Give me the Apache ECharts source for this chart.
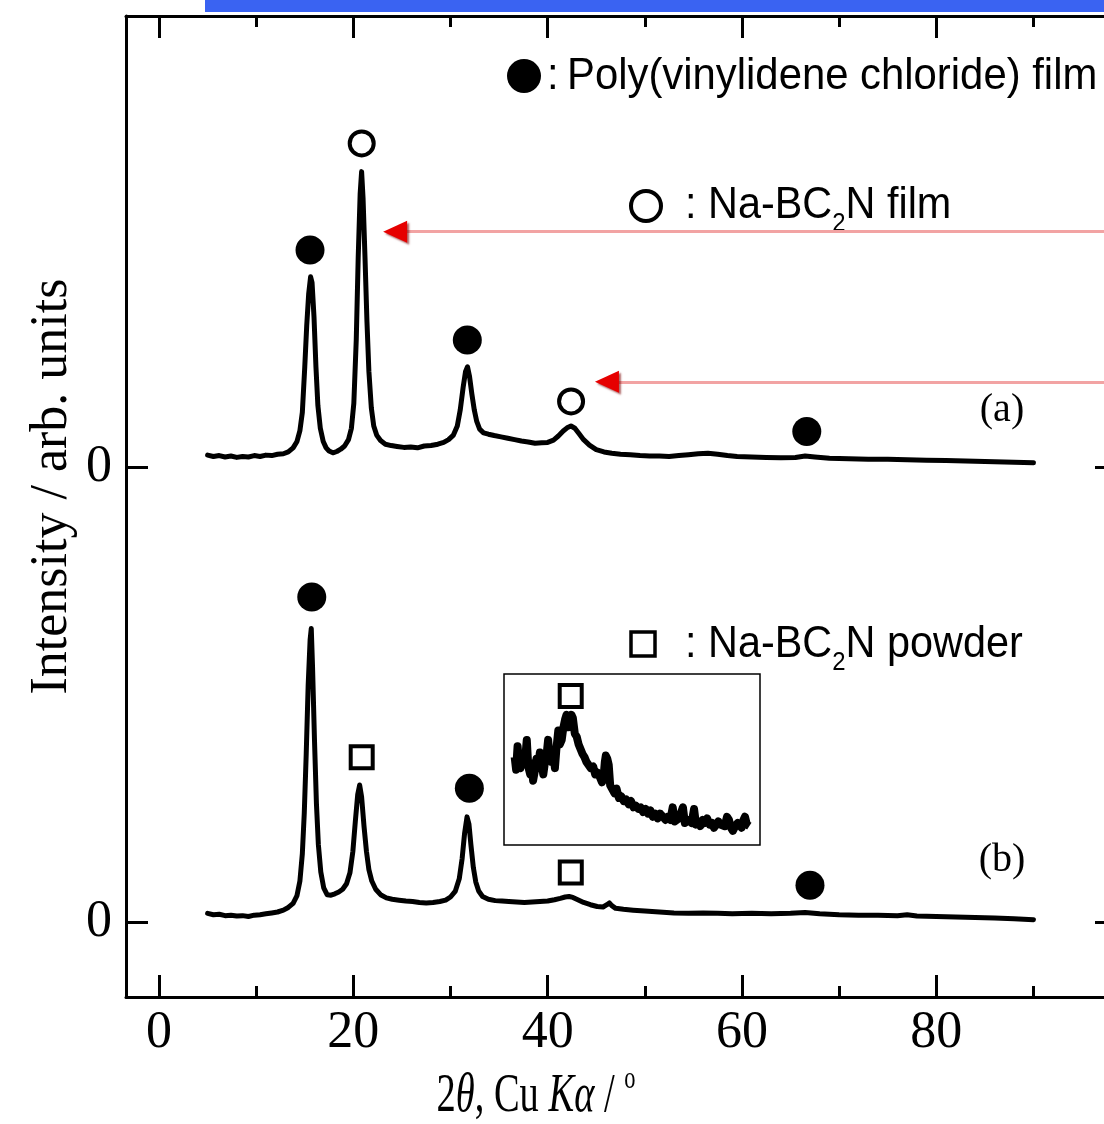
<!DOCTYPE html>
<html>
<head>
<meta charset="utf-8">
<script src="https://cdn.jsdelivr.net/npm/echarts@6/dist/echarts.min.js"></script>
<style>
html,body{margin:0;padding:0;background:#fff;}
#xrdChart{width:1104px;height:1124px;}
</style>
</head>
<body>
<div id="xrdChart"></div>
<script>
// (a) Na-BC2N film on PVDC
const thetaA = [5.0,5.6,6.2,6.8,7.4,8.0,8.6,9.2,9.8,10.4,11.0,11.6,12.2,12.8,13.3,13.8,14.2,14.5,14.75,15.0,15.2,15.4,15.6,15.75,15.95,16.15,16.35,16.6,16.9,17.2,17.5,17.9,18.3,18.7,19.1,19.5,19.8,20.05,20.3,20.5,20.7,20.85,21.0,21.2,21.4,21.6,21.85,22.1,22.4,22.8,23.3,23.9,24.5,25.2,25.9,26.6,27.3,28.0,28.7,29.3,29.8,30.3,30.7,31.0,31.3,31.55,31.75,31.95,32.2,32.45,32.7,33.0,33.4,33.9,34.5,35.2,35.9,36.6,37.3,38.0,38.7,39.4,40.0,40.6,41.1,41.6,42.0,42.4,42.8,43.2,43.7,44.3,45.0,45.8,46.6,47.5,48.5,49.5,50.5,51.5,52.5,53.5,54.5,55.5,56.5,57.5,58.5,59.5,61.0,62.5,64.0,65.5,66.5,67.5,69.0,71.0,73.0,75.0,77.0,79.0,81.0,83.0,85.0,87.0,89.0,90.0];
const intA = [2.6,2.3,2.5,2.2,2.4,2.1,2.3,2.2,2.5,2.3,2.6,2.5,2.8,2.9,3.3,4.2,5.6,8.0,12.0,22.0,31.0,38.0,41.8,40.5,33.0,22.0,13.5,8.5,5.6,4.2,3.5,3.1,3.4,3.9,4.6,6.0,8.5,14.0,28.0,46.0,60.0,64.9,59.0,46.0,32.0,21.0,13.0,9.0,7.0,5.8,5.0,4.7,4.5,4.3,4.4,4.2,4.6,4.7,5.0,5.4,6.0,7.0,9.0,12.5,17.5,21.0,22.0,20.0,16.0,12.5,10.0,8.3,7.5,7.2,6.9,6.6,6.3,6.0,5.7,5.5,5.2,5.3,5.4,5.9,6.8,7.9,8.6,9.0,8.5,7.4,6.0,4.8,3.8,3.3,3.0,2.8,2.7,2.5,2.4,2.4,2.3,2.5,2.7,2.9,3.0,2.8,2.5,2.3,2.2,2.1,2.0,2.1,2.4,2.2,1.9,1.8,1.7,1.7,1.6,1.5,1.4,1.3,1.2,1.1,1.0,0.9];

// (b) Na-BC2N powder on PVDC, lower trace
const thetaB = [5.0,5.6,6.2,6.8,7.4,8.0,8.6,9.2,9.8,10.4,11.0,11.6,12.2,12.8,13.3,13.8,14.2,14.5,14.75,14.95,15.15,15.35,15.55,15.67,15.8,16.0,16.2,16.4,16.65,16.95,17.3,17.7,18.1,18.5,18.9,19.3,19.65,19.95,20.2,20.45,20.65,20.85,21.1,21.35,21.6,21.9,22.3,22.8,23.4,24.0,24.7,25.4,26.1,26.8,27.5,28.2,28.9,29.5,30.0,30.5,30.9,31.2,31.45,31.7,31.9,32.1,32.35,32.6,32.9,33.3,33.9,34.6,35.3,36.0,36.8,37.6,38.4,39.2,40.0,40.7,41.3,41.8,42.2,42.6,43.1,43.7,44.4,45.1,45.7,46.1,46.35,46.6,47.0,47.8,48.8,50.0,51.5,53.0,54.5,56.0,57.5,59.0,61.0,63.0,65.0,66.5,68.0,70.0,72.0,74.0,76.0,77.0,78.0,80.0,82.0,84.0,86.0,88.0,90.0];
const intB = [1.9,1.6,1.7,1.4,1.5,1.3,1.4,1.2,1.5,1.6,1.8,2.0,2.2,2.6,3.2,4.1,5.8,9.0,15.0,24.0,37.0,52.0,62.0,64.5,56.0,40.0,26.0,17.0,11.0,7.5,6.0,5.9,6.2,6.6,7.2,8.4,10.8,15.5,22.0,28.0,30.1,27.5,21.0,15.5,11.5,9.0,7.2,6.0,5.3,5.0,4.8,4.6,4.5,4.3,4.2,4.3,4.5,4.8,5.5,6.8,9.5,14.0,19.5,23.1,21.5,17.0,12.0,8.8,6.8,5.6,5.0,4.7,4.6,4.5,4.4,4.3,4.4,4.5,4.6,4.9,5.2,5.5,5.6,5.4,4.9,4.3,3.8,3.4,3.3,3.8,4.2,3.6,3.0,2.8,2.6,2.4,2.2,2.0,1.9,2.0,1.9,1.8,1.9,1.8,1.9,2.1,1.8,1.6,1.5,1.5,1.4,1.6,1.3,1.2,1.1,1.0,0.9,0.7,0.5];

// inset: enlarged (b) around 36-61 deg
const thetaInset = [36.6,36.75,36.9,37.05,37.2,37.35,37.5,37.7,37.85,38.0,38.2,38.35,38.5,38.7,38.85,39.0,39.2,39.4,39.55,39.75,39.9,40.05,40.2,40.4,40.55,40.75,40.9,41.1,41.25,41.45,41.6,41.8,41.95,42.1,42.3,42.45,42.6,42.8,43.0,43.2,43.4,43.6,43.8,44.0,44.2,44.45,44.7,44.9,45.15,45.4,45.6,45.75,45.9,46.0,46.15,46.3,46.45,46.65,46.9,47.1,47.35,47.6,47.85,48.1,48.35,48.6,48.85,49.1,49.35,49.6,49.85,50.1,50.35,50.6,50.85,51.1,51.35,51.6,51.9,52.15,52.4,52.65,52.9,53.1,53.3,53.55,53.75,53.95,54.15,54.35,54.6,54.85,55.1,55.3,55.55,55.75,56.0,56.2,56.45,56.7,56.95,57.15,57.4,57.6,57.8,58.0,58.25,58.5,58.7,58.9,59.1,59.35,59.6,59.8,60.0,60.2,60.35,60.55,60.8];
const intInset = [4.1,3.7,4.45,3.9,3.75,4.2,3.95,4.1,4.65,3.8,3.55,3.9,3.35,3.7,4.05,3.8,4.25,3.85,3.55,4.0,4.2,4.65,4.1,3.95,4.3,3.75,4.35,4.95,4.5,4.65,5.0,5.3,5.45,5.05,5.1,5.45,5.35,4.85,4.75,4.5,4.45,4.2,4.1,3.95,4.0,3.75,3.8,3.55,3.6,3.45,3.3,3.4,3.95,4.15,4.05,3.85,3.2,3.15,2.95,3.1,2.8,2.85,2.7,2.75,2.6,2.7,2.5,2.55,2.45,2.5,2.35,2.45,2.3,2.4,2.2,2.3,2.15,2.3,2.2,2.1,2.2,2.1,2.5,2.05,2.0,2.15,2.1,2.5,2.0,1.95,2.1,2.0,2.45,1.95,2.05,1.9,2.1,2.0,2.15,1.95,2.0,1.85,1.95,2.05,1.95,2.0,1.9,2.2,2.1,1.85,1.75,1.9,2.0,1.95,1.85,2.1,2.2,1.95,1.9];

// vertical shift of trace (a)
const offsetA = 100;

// peak assignments [2theta, intensity incl. offset]
const pvdcA = [[15.54, 147.7], [31.73, 127.9], [66.67, 107.8]];
const filmA = [[20.86, 171.1], [42.41, 114.4]];
const pvdcB = [[15.72, 71.4], [31.94, 29.4], [67.0, 8.1]];
const powderB = [[20.86, 36.2], [42.38, 10.9]];
const powderInset = [[42.38, 6.05]];

// red arrows pointing at the film peaks
const arrowHeads = [[24.3, 151.7], [46.1, 118.7]];
const arrowEnd = 98.6;

const xMajor = [0, 20, 40, 60, 80];
const xMinor = [10, 30, 50, 70, 90];
const yZeros = [0, offsetA];

const serif = 'Liberation Serif, Times New Roman, serif';
const sans = 'Liberation Sans, Arial, sans-serif';
const xMin = -3.4, xMax = 98.6;
const yMin = -16.48, yMax = 199.1;

function pairs(xs, ys, shift) {
    return xs.map((x, i) => [x, ys[i] + shift]);
}

function tickAxis(position, ticks, len, withLine) {
    return {
        type: 'value', gridIndex: 0, position: position, min: xMin, max: xMax,
        axisLine: { show: withLine, onZero: false, lineStyle: { color: '#000', width: 3 } },
        axisTick: { show: true, inside: true, length: len, customValues: ticks, lineStyle: { color: '#000', width: 3 } },
        axisLabel: { show: false },
        splitLine: { show: false }
    };
}

function yAx(position, withLabel) {
    let ax = {
        type: 'value', gridIndex: 0, position: position, min: yMin, max: yMax,
        axisLine: { show: true, onZero: false, lineStyle: { color: '#000', width: 3 } },
        axisTick: { show: true, inside: true, length: 22, customValues: yZeros, lineStyle: { color: '#000', width: 3 } },
        axisLabel: { show: false },
        splitLine: { show: false }
    };
    if (withLabel) {
        ax.axisLabel = {
            show: true, customValues: yZeros, margin: 14, formatter: () => '0',
            fontFamily: serif, fontSize: 52, color: '#000'
        };
        ax.name = 'Intensity / arb. units';
        ax.nameLocation = 'middle';
        ax.nameRotate = 90;
        ax.nameGap = 48;
        ax.nameMoveOverlap = false;
        ax.nameTextStyle = { fontFamily: serif, fontSize: 52, color: '#000', padding: [0, 0, 0, 40] };
    }
    return ax;
}

let xBottom = tickAxis('bottom', xMajor, 22, true);
xBottom.axisLabel = { show: true, customValues: xMajor, margin: 10, fontFamily: serif, fontSize: 52, color: '#000' };

function markers(name, data, symbol, size, filled, xi, yi) {
    return {
        name: name, type: 'scatter', xAxisIndex: xi, yAxisIndex: yi, data: data,
        symbol: symbol, symbolSize: size, z: 6,
        itemStyle: filled ? { color: '#000', opacity: 1 } : { color: '#fff', borderColor: '#000', borderWidth: 4, opacity: 1 }
    };
}

const legendRich = {
    t: { fontFamily: sans, fontSize: 45, lineHeight: 50, verticalAlign: 'top', fill: '#000' },
    s: { fontFamily: sans, fontSize: 26, lineHeight: 26, padding: [28, 0, 0, 0], verticalAlign: 'top', fill: '#000' }
};

let option = {
    animation: false,
    backgroundColor: '#fff',
    grid: [
        { left: 126, top: 16, right: -13, bottom: 127, outerBoundsMode: 'none' },
        { left: 504, top: 674, width: 256, height: 171, show: true, borderColor: '#000', borderWidth: 1.5, backgroundColor: '#fff', outerBoundsMode: 'none' }
    ],
    xAxis: [
        xBottom,
        tickAxis('bottom', xMinor, 11, false),
        tickAxis('top', xMajor, 22, true),
        tickAxis('top', xMinor, 11, false),
        { type: 'value', gridIndex: 1, min: 35.5, max: 61.9, show: false }
    ],
    yAxis: [
        yAx('left', true),
        yAx('right', false),
        { type: 'value', gridIndex: 1, min: 1.3, max: 6.75, show: false }
    ],
    series: [
        {
            name: '(a)', type: 'line', xAxisIndex: 0, yAxisIndex: 0, data: pairs(thetaA, intA, offsetA),
            showSymbol: false, lineStyle: { color: '#000', width: 5, join: 'round', cap: 'round' }, z: 3
        },
        {
            name: '(b)', type: 'line', xAxisIndex: 0, yAxisIndex: 0, data: pairs(thetaB, intB, 0),
            showSymbol: false, lineStyle: { color: '#000', width: 5, join: 'round', cap: 'round' }, z: 3
        },
        {
            name: 'inset', type: 'line', xAxisIndex: 4, yAxisIndex: 2, data: pairs(thetaInset, intInset, 0),
            showSymbol: false, lineStyle: { color: '#000', width: 8, join: 'round' }, z: 4
        },
        markers('PVDC (a)', pvdcA, 'circle', 29, true, 0, 0),
        markers('film (a)', filmA, 'circle', 24, false, 0, 0),
        markers('PVDC (b)', pvdcB, 'circle', 29, true, 0, 0),
        markers('powder (b)', powderB, 'rect', 22, false, 0, 0),
        markers('powder inset', powderInset, 'rect', 22, false, 4, 2),
        {
            name: 'arrows', type: 'scatter', xAxisIndex: 0, yAxisIndex: 0, data: arrowHeads,
            symbol: 'triangle', symbolRotate: 90, symbolSize: [22, 24], z: 7,
            itemStyle: { color: '#e60000', opacity: 1, shadowColor: 'rgba(120,0,0,0.6)', shadowBlur: 2, shadowOffsetX: 2, shadowOffsetY: 2 },
            markLine: {
                silent: true, symbol: ['none', 'none'], label: { show: false },
                lineStyle: { color: '#f2a3a3', width: 3, type: 'solid', opacity: 1 },
                data: arrowHeads.map(p => [{ coord: [p[0], p[1]] }, { coord: [arrowEnd, p[1]] }])
            }
        }
    ],
    graphic: [
        { type: 'rect', shape: { x: 205, y: 0, width: 899, height: 12 }, style: { fill: '#3a63f2' } },
        { type: 'circle', shape: { cx: 524, cy: 76, r: 17 }, style: { fill: '#000' } },
        {
            type: 'text', x: 547, y: 77, scaleX: 0.93,
            style: { text: ':\u2009Poly(vinylidene chloride) film', font: '45px ' + sans, fill: '#000', verticalAlign: 'middle' }
        },
        { type: 'circle', shape: { cx: 646, cy: 206, r: 15 }, style: { fill: '#fff', stroke: '#000', lineWidth: 4 } },
        {
            type: 'text', x: 685, y: 208, scaleX: 0.92,
            style: { text: '{t|: Na-BC}{s|2}{t|N film}', verticalAlign: 'middle', rich: legendRich }
        },
        { type: 'rect', shape: { x: 631, y: 632, width: 24, height: 24 }, style: { fill: '#fff', stroke: '#000', lineWidth: 3.5 } },
        {
            type: 'text', x: 685, y: 647, scaleX: 0.92,
            style: { text: '{t|: Na-BC}{s|2}{t|N powder}', verticalAlign: 'middle', rich: legendRich }
        },
        { type: 'text', x: 1002, y: 410, style: { text: '(a)', font: '40px ' + serif, fill: '#000', align: 'center', verticalAlign: 'middle' } },
        { type: 'text', x: 1002, y: 860, style: { text: '(b)', font: '40px ' + serif, fill: '#000', align: 'center', verticalAlign: 'middle' } },
        // x axis title, condensed like the original
        {
            type: 'text', x: 536, y: 1094, scaleX: 0.7,
            style: {
                text: '{n|2}{i|θ}{n|, Cu }{i|Kα}{n| / }{sup|o}', align: 'center', verticalAlign: 'middle',
                rich: {
                    n: { fontFamily: serif, fontSize: 55, fill: '#000', lineHeight: 60, verticalAlign: 'bottom' },
                    i: { fontFamily: serif, fontSize: 55, fontStyle: 'italic', fill: '#000', lineHeight: 60, verticalAlign: 'bottom' },
                    sup: { fontFamily: serif, fontSize: 32, fill: '#000', lineHeight: 32, verticalAlign: 'top' }
                }
            }
        }
    ]
};

let chart = echarts.init(document.getElementById('xrdChart'));
chart.setOption(option);
window.addEventListener('resize', () => { chart.resize(); });
</script>
</body>
</html>
